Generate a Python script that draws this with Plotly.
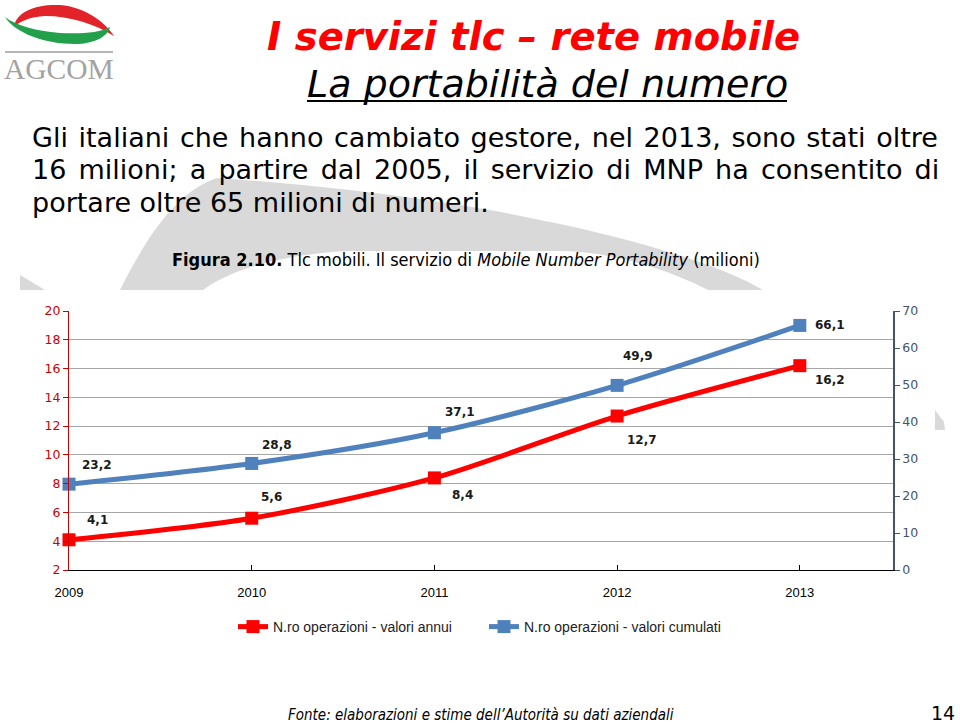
import plotly.graph_objects as go

# dati (milioni)
anni = [2009, 2010, 2011, 2012, 2013]
annui = [4.1, 5.6, 8.4, 12.7, 16.2]
cumulati = [23.2, 28.8, 37.1, 49.9, 66.1]
nome_annui = "N.ro operazioni - valori annui"
nome_cumulati = "N.ro operazioni - valori cumulati"

titolo = "I servizi tlc – rete mobile"
sottotitolo = "La portabilità del numero"
testo = [
    "Gli italiani che hanno cambiato gestore, nel 2013, sono stati oltre",
    "16 milioni; a partire dal 2005, il servizio di MNP ha consentito di",
    "portare oltre 65 milioni di numeri.",
]
spazi = [2.0, 3.6, 0]   # spaziatura extra delle parole (testo giustificato)
didascalia = "<b>Figura 2.10.</b> Tlc mobili. Il servizio di <i>Mobile Number Portability</i> (milioni)"
fonte = "Fonte: elaborazioni e stime dell’Autorità su dati aziendali"
pagina = "14"

RED = "#ff0000"
BLUE = "#4f81bd"
W, H = 960, 726
PL, PR, PT, PB = 69, 893, 311, 570   # area del grafico in pixel


def px(x):
    return (x - PL) / (PR - PL)


def py(y):
    return (PB - y) / (PB - PT)


def path(pts):
    """path SVG in coordinate paper a partire da pixel"""
    out = []
    for p in pts:
        if isinstance(p, str):
            out.append(p)
        else:
            out.append(f"{px(p[0]):.5f},{py(p[1]):.5f}")
    return " ".join(out)


def testo_pagina(x, y, text, font, xanchor="center"):
    return dict(x=px(x), y=py(y), xref="paper", yref="paper", text=text, showarrow=False,
                xanchor=xanchor, yanchor="middle", font=font)


fig = go.Figure()

fig.add_trace(go.Scatter(
    x=anni, y=annui, name=nome_annui, mode="lines+markers",
    line=dict(color=RED, width=5, shape="spline", smoothing=0.8),
    marker=dict(symbol="square", size=13, color=RED),
    cliponaxis=False,
))
fig.add_trace(go.Scatter(
    x=anni, y=cumulati, name=nome_cumulati, mode="lines+markers", yaxis="y2",
    line=dict(color=BLUE, width=5, shape="spline", smoothing=0.8),
    marker=dict(symbol="square", size=13, color=BLUE),
    cliponaxis=False,
))

ann = []
# etichette dati
lab_font = dict(family="DejaVu Sans", size=12, color="#1a1a1a")
off_c = [(28, 19), (25, 18), (26, 21), (21, 29), (30, 0)]
off_a = [(28, 20), (20, 21), (28, -17), (25, -24), (30, -14)]
for a, v, (dx, dy) in zip(anni, cumulati, off_c):
    ann.append(dict(x=a, y=v, xref="x", yref="y2", text="<b>" + f"{v:.1f}".replace(".", ",") + "</b>",
                    showarrow=False, xshift=dx, yshift=dy, font=lab_font))
for a, v, (dx, dy) in zip(anni, annui, off_a):
    ann.append(dict(x=a, y=v, xref="x", yref="y", text="<b>" + f"{v:.1f}".replace(".", ",") + "</b>",
                    showarrow=False, xshift=dx, yshift=dy, font=lab_font))

# testi della slide
ann.append(testo_pagina(533, 36, "<b><i>" + titolo + "</i></b>",
                        dict(family="DejaVu Sans", size=38.5, color=RED)))
ann.append(testo_pagina(547, 84, "<i>" + sottotitolo + "</i>",
                        dict(family="DejaVu Sans", size=38, color="#000000")))
for i, riga in enumerate(testo):
    t = riga if not spazi[i] else f'<span style="word-spacing:{spazi[i]}px">{riga}</span>'
    ann.append(testo_pagina(30, 137 + 32.5 * i, t,
                            dict(family="DejaVu Sans", size=27, color="#000000"), xanchor="left"))
ann.append(testo_pagina(466, 259, didascalia,
                        dict(family="DejaVu Sans Condensed, Liberation Sans Narrow, DejaVu Sans", size=18,
                             color="#000000")))
ann.append(testo_pagina(481, 715, "<i>" + fonte + "</i>",
                        dict(family="DejaVu Sans Condensed, Liberation Sans Narrow, DejaVu Sans", size=15,
                             color="#000000")))
ann.append(testo_pagina(957, 713, pagina, dict(family="DejaVu Sans", size=19, color="#000000"),
                        xanchor="right"))
ann.append(testo_pagina(59, 69, "AGCOM", dict(family="Liberation Serif", size=29.5, color="#a3a3a3")))

shapes = []
# filigrana grigia
shapes.append(dict(type="path", xref="paper", yref="paper", layer="below", line=dict(width=0),
                   fillcolor="#d9d9d9",
                   path=path(["M", (120, 290), "C", (150, 230), (180, 190), (217, 178),
                              "C", (320, 185), (450, 200), (540, 220),
                              "C", (640, 240), (720, 265), (763, 290),
                              "L", (708, 290), "C", (660, 265), (600, 250), (554, 251),
                              "L", (345, 251), "C", (280, 255), (230, 270), (203, 290), "Z"])))
shapes.append(dict(type="path", xref="paper", yref="paper", layer="below", line=dict(width=0),
                   fillcolor="#d9d9d9", path=path(["M", (20, 275), "L", (45, 290), "L", (20, 290), "Z"])))
shapes.append(dict(type="path", xref="paper", yref="paper", layer="below", line=dict(width=0),
                   fillcolor="#d9d9d9",
                   path=path(["M", (935, 410), "L", (944, 422), "L", (945, 430), "L", (935, 430), "Z"])))
# logo
shapes.append(dict(type="path", xref="paper", yref="paper", line=dict(width=0), fillcolor="#e3232a",
                   path=path(["M", (14, 27), "C", (16, 12), (35, 4), (60, 5),
                              "C", (85, 7), (105, 22), (114, 36),
                              "C", (95, 24), (70, 16), (45, 16),
                              "C", (30, 17), (20, 21), (14, 27), "Z"])))
shapes.append(dict(type="path", xref="paper", yref="paper", line=dict(width=0), fillcolor="#22a04b",
                   path=path(["M", (5, 17), "C", (15, 33), (45, 44), (75, 44),
                              "C", (95, 44), (108, 36), (110, 27),
                              "C", (100, 33), (80, 34), (60, 33),
                              "C", (35, 31), (15, 25), (5, 17), "Z"])))
shapes.append(dict(type="line", xref="paper", yref="paper", x0=px(5), x1=px(113), y0=py(52), y1=py(52),
                   line=dict(color="#b5b5b5", width=2)))
# sottolineatura sottotitolo
shapes.append(dict(type="line", xref="paper", yref="paper", x0=px(307), x1=px(787), y0=py(101), y1=py(101),
                   line=dict(color="#000000", width=2)))

fig.update_layout(
    width=W, height=H,
    margin=dict(l=PL, r=W - PR, t=PT, b=H - PB),
    paper_bgcolor="white", plot_bgcolor="white",
    annotations=ann, shapes=shapes,
    showlegend=True,
    legend=dict(orientation="h", x=px(233), y=py(627), xanchor="left", yanchor="middle",
                font=dict(family="Liberation Sans", size=14, color="#222222"),
                entrywidth=206, entrywidthmode="pixels", bgcolor="rgba(0,0,0,0)"),
    xaxis=dict(range=[2009, 2013.51], tickvals=anni, ticktext=[str(a) for a in anni],
               showgrid=False, zeroline=False, showline=True, linecolor="#000000", linewidth=1,
               ticks="inside", ticklen=5, tickcolor="#000000", ticklabelstandoff=10,
               tickfont=dict(family="Liberation Sans", size=13, color="#000000")),
    yaxis=dict(range=[2, 20], dtick=2, showgrid=True, gridcolor="#a6a6a6", gridwidth=1,
               zeroline=False, showline=True, linecolor="#cc0000", linewidth=1,
               ticks="outside", ticklen=5, tickcolor="#cc0000",
               tickfont=dict(family="DejaVu Sans", size=12.5, color="#cc0000")),
    yaxis2=dict(range=[0, 70], dtick=10, overlaying="y", side="right", showgrid=False,
                zeroline=False, showline=True, linecolor="#44546a", linewidth=1.5,
                ticks="outside", ticklen=5, tickcolor="#44546a",
                tickfont=dict(family="DejaVu Sans", size=12.5, color="#44546a")),
)

fig.write_html("out.html", config={"displayModeBar": False},
               post_script="document.body.style.margin='0';")
